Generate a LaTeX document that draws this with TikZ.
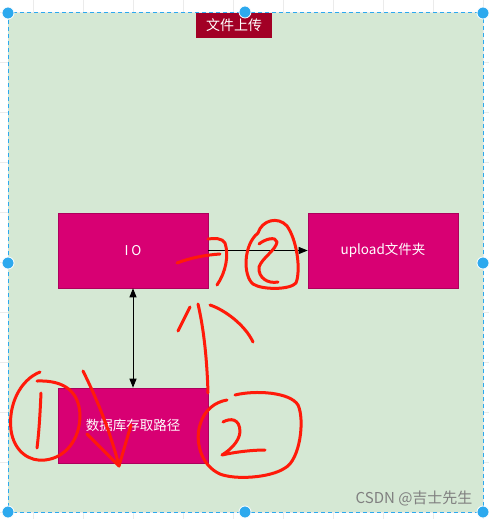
\documentclass[tikz,border=0pt]{standalone}
\usepackage{fontspec}
\setmainfont{Liberation Sans}
\newfontfamily\cjk{Noto Sans CJK SC}
\usetikzlibrary{arrows.meta}
\definecolor{bggreen}{HTML}{D5E8D4}
\definecolor{magentabox}{HTML}{D80073}
\definecolor{titlered}{HTML}{A20025}
\definecolor{handleblue}{HTML}{2DA9EE}
\definecolor{penred}{HTML}{FF1A0A}
\definecolor{gridgray}{HTML}{EBEBEB}
\tikzset{
  procbox/.style={draw=magentabox!80!black, line width=0.6pt, fill=magentabox, minimum width=150pt, minimum height=75pt, inner sep=0pt, text=white, font=\cjk\fontsize{13.5}{15}\selectfont},
  handle/.style={circle, fill=handleblue, draw=white, line width=0.8pt, minimum size=12pt, inner sep=0pt},
  pen/.style={draw=penred, line width=3pt, line cap=round, line join=round},
  conn/.style={draw=black, line width=1pt}
}
\begin{document}
\begin{tikzpicture}[x=1pt,y=-1pt]
\useasboundingbox (0,0) rectangle (489,519);
\fill[white] (0,0) rectangle (489,519);
% faint grid
\foreach \gx in {33,83,...,483} {\draw[gridgray, line width=0.6pt] (\gx,0) -- (\gx,519);}
\foreach \gy in {12,62,...,512} {\draw[gridgray, line width=0.6pt] (0,\gy) -- (489,\gy);}
% container
\coordinate (tl) at (8,13);
\coordinate (br) at (483,512);
\fill[bggreen] (tl) rectangle (br);
\draw[handleblue, line width=1pt, dash pattern=on 4pt off 3pt] (tl) rectangle (br);
% title
\node[fill=titlered, text=white, minimum width=76pt, minimum height=25pt, inner sep=0pt, font=\cjk\fontsize{14}{16}\selectfont] (title) at (234,25.5) {文件上传};
% boxes
\node[procbox] (io) at (133,250.5) {I O};
\node[procbox] (up) at (383,250.5) {upload文件夹};
\node[procbox] (db) at (133,425.5) {数据库存取路径};
% connectors
\draw[conn, -{Triangle[length=9pt,width=7pt]}] (io.east) -- (up.west);
\draw[conn, {Triangle[length=9pt,width=7pt]}-{Triangle[length=9pt,width=7pt]}] (io.south) -- (db.north);
% handles
\foreach \hx/\hy in {8/13,245/12,483/13,8/263,483/263,8/512,245/512,483/512} {\node[handle] at (\hx,\hy) {};}
% red pen annotations: near arrow (3)
\draw[pen] (177,263) .. controls (190,258) and (205,255) .. (220,254);
\draw[pen] (208,239) .. controls (215,238) and (222,238) .. (225,243) .. controls (229,255) and (226,272) .. (217,285);
\draw[pen] (258,233) .. controls (262,220) and (278,216) .. (287,226) .. controls (297,240) and (301,270) .. (296,283) .. controls (290,290) and (262,290) .. (253,284) .. controls (243,276) and (243,245) .. (258,233);
\draw[pen] (259,244) .. controls (265,239) and (276,236) .. (277,242) .. controls (276,250) and (262,258) .. (259,267) .. controls (258,278) and (268,284) .. (278,282);
% up arrow and circled 2
\draw[pen] (198,304) .. controls (204,330) and (207,360) .. (208,393);
\draw[pen] (190,307) -- (178,331);
\draw[pen] (210,305) .. controls (225,310) and (245,325) .. (253,342);
\draw[pen] (235,395) .. controls (255,390) and (290,392) .. (298,405) .. controls (305,420) and (300,460) .. (285,468) .. controls (270,478) and (235,480) .. (220,474) .. controls (200,465) and (195,440) .. (200,425) .. controls (204,410) and (215,402) .. (227,400);
\draw[pen] (223,422) .. controls (230,418) and (240,418) .. (240,432) .. controls (239,442) and (230,450) .. (222,455) .. controls (235,452) and (252,450) .. (265,450);
% circled 1 and down arrow
\draw[pen] (40,372) .. controls (20,380) and (8,405) .. (11,430) .. controls (14,452) and (30,462) .. (45,460) .. controls (65,458) and (80,440) .. (80,415) .. controls (79,392) and (65,380) .. (37,381);
\draw[pen] (41,393) .. controls (40,415) and (39,432) .. (37,448);
\draw[pen] (83,371) .. controls (95,395) and (110,430) .. (119,466);
\draw[pen] (87,434) -- (119,466) -- (131,425);
% watermark
\node[text=gray, font=\cjk\fontsize{15}{17}\selectfont, anchor=east] (wm) at (476,498) {CSDN @吉士先生};
\end{tikzpicture}
\end{document}
